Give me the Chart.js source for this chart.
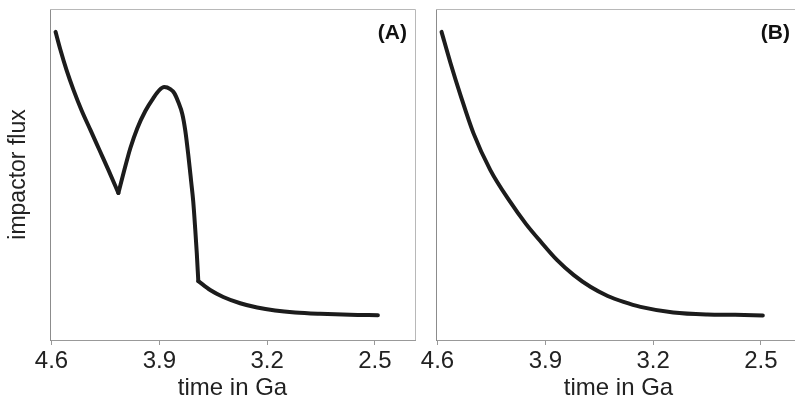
<!DOCTYPE html>
<html>
<head>
<meta charset="utf-8">
<script src="https://cdn.jsdelivr.net/npm/chart.js@4"></script>
<style>
  html, body { margin: 0; padding: 0; background: #fff; overflow: hidden; }
  body { width: 795px; height: 403px; position: relative; }
  .panel { position: absolute; top: 0; width: 420px; height: 403px; }
  #panelA { left: 0; }
  #panelB { left: 386px; }
</style>
</head>
<body>
<div class="panel" id="panelA"><canvas id="chartA"></canvas></div>
<div class="panel" id="panelB"><canvas id="chartB"></canvas></div>
<script>
// time in Ga (x) and impactor flux (arbitrary units, y)
const timeA = [4.574, 4.542, 4.503, 4.457, 4.406, 4.347, 4.289, 4.231, 4.166,
    4.127, 4.088, 4.043, 3.991, 3.939, 3.900, 3.868, 3.829, 3.803, 3.777, 3.751,
    3.732, 3.712, 3.693, 3.680, 3.667, 3.657, 3.647,
    3.570, 3.485, 3.375, 3.265, 3.148, 3.019, 2.857, 2.662, 2.481];
const fluxA = [93.1, 87.6, 81.6, 75.5, 69.5, 63.4, 57.4, 51.4, 44.4,
    51.4, 58.0, 64.0, 69.2, 73.1, 75.5, 76.4, 75.8, 74.6, 71.9, 68.3,
    63.4, 55.9, 47.7, 41.9, 33.5, 26.3, 17.8,
    15.1, 13.0, 11.1, 9.8, 8.9, 8.3, 7.9, 7.6, 7.5];
// indices where curve A has a sharp corner (the dip and the foot of the cliff)
const cornersA = [8, 26];

const timeB = [4.574, 4.516, 4.451, 4.367, 4.258, 4.128, 4.025, 3.928, 3.825, 3.715,
    3.605, 3.495, 3.392, 3.282, 3.069, 2.849, 2.668, 2.488];
const fluxB = [93.1, 83.7, 74.0, 62.5, 51.4, 41.7, 35.0, 29.6, 24.2, 19.6,
    16.0, 13.3, 11.5, 10.0, 8.3, 7.7, 7.6, 7.4];

const tickValues = [4.6, 3.9, 3.2, 2.5];

const FONT = "'Liberation Sans', Arial, sans-serif";

// light frame on top and right, plus panel letter
const framePlugin = {
    id: 'frame',
    afterDraw(chart, args, opts) {
        const { ctx, chartArea: a } = chart;
        ctx.save();
        ctx.strokeStyle = '#b8b8b8';
        ctx.lineWidth = 1;
        ctx.beginPath();
        ctx.moveTo(a.left, a.top + 0.5);
        ctx.lineTo(a.right + 0.5, a.top + 0.5);
        ctx.lineTo(a.right + 0.5, a.bottom);
        ctx.stroke();
        ctx.fillStyle = '#111';
        ctx.font = "bold 21px " + FONT;
        ctx.textAlign = 'right';
        ctx.textBaseline = 'alphabetic';
        ctx.fillText(opts.label, a.right - opts.dx, a.top + 30);
        ctx.restore();
    }
};

// split a curve at its corners so each piece is smoothed on its own
function splitCurve(times, flux, corners) {
    const cuts = [0, ...corners, times.length - 1];
    const parts = [];
    for (let k = 0; k < cuts.length - 1; k++) {
        const pts = [];
        for (let i = cuts[k]; i <= cuts[k + 1]; i++) pts.push({ x: times[i], y: flux[i] });
        parts.push({
            data: pts,
            showLine: true,
            borderColor: '#1c1c1c',
            borderWidth: 4,
            borderCapStyle: 'round',
            borderJoinStyle: 'round',
            cubicInterpolationMode: 'monotone',
            pointRadius: 0
        });
    }
    return parts;
}

function makeConfig(datasets, label, dx, yTitle) {
    return {
        type: 'scatter',
        data: { datasets },
        options: {
            responsive: false,
            animation: false,
            layout: { padding: { top: 9, right: 5, left: 0, bottom: 0 } },
            scales: {
                x: {
                    type: 'linear',
                    reverse: true,
                    min: 2.24,
                    max: 4.61,
                    afterBuildTicks: (scale) => {
                        scale.ticks = tickValues.map((v) => ({ value: v }));
                    },
                    afterFit: (scale) => { scale.height = 63; },
                    ticks: {
                        color: '#222',
                        font: { family: FONT, size: 24 },
                        padding: 2,
                        maxRotation: 0,
                        autoSkip: false,
                        callback: (v) => Number(v).toFixed(1)
                    },
                    grid: {
                        drawOnChartArea: false,
                        tickLength: 5,
                        color: '#999'
                    },
                    border: { display: true, color: '#999' },
                    title: {
                        display: true,
                        text: 'time in Ga',
                        color: '#222',
                        font: { family: FONT, size: 24 },
                        padding: { top: 0, bottom: 0 }
                    }
                },
                y: {
                    min: 0,
                    max: 100,
                    afterFit: (scale) => { scale.width = 50; },
                    ticks: { display: false },
                    grid: { display: false },
                    border: { display: true, color: '#8c8c8c' },
                    title: {
                        display: yTitle !== '',
                        text: yTitle,
                        color: '#222',
                        font: { family: FONT, size: 23 },
                        padding: { top: 5, bottom: 0 }
                    }
                }
            },
            plugins: {
                legend: { display: false },
                tooltip: { enabled: false },
                frame: { label, dx }
            }
        },
        plugins: [framePlugin]
    };
}

const cA = document.getElementById('chartA');
cA.width = 420; cA.height = 403;
new Chart(cA, makeConfig(splitCurve(timeA, fluxA, cornersA), '(A)', 8, 'impactor flux'));

const cB = document.getElementById('chartB');
cB.width = 420; cB.height = 403;
new Chart(cB, makeConfig(splitCurve(timeB, fluxB, []), '(B)', 11, ''));
</script>
</body>
</html>
